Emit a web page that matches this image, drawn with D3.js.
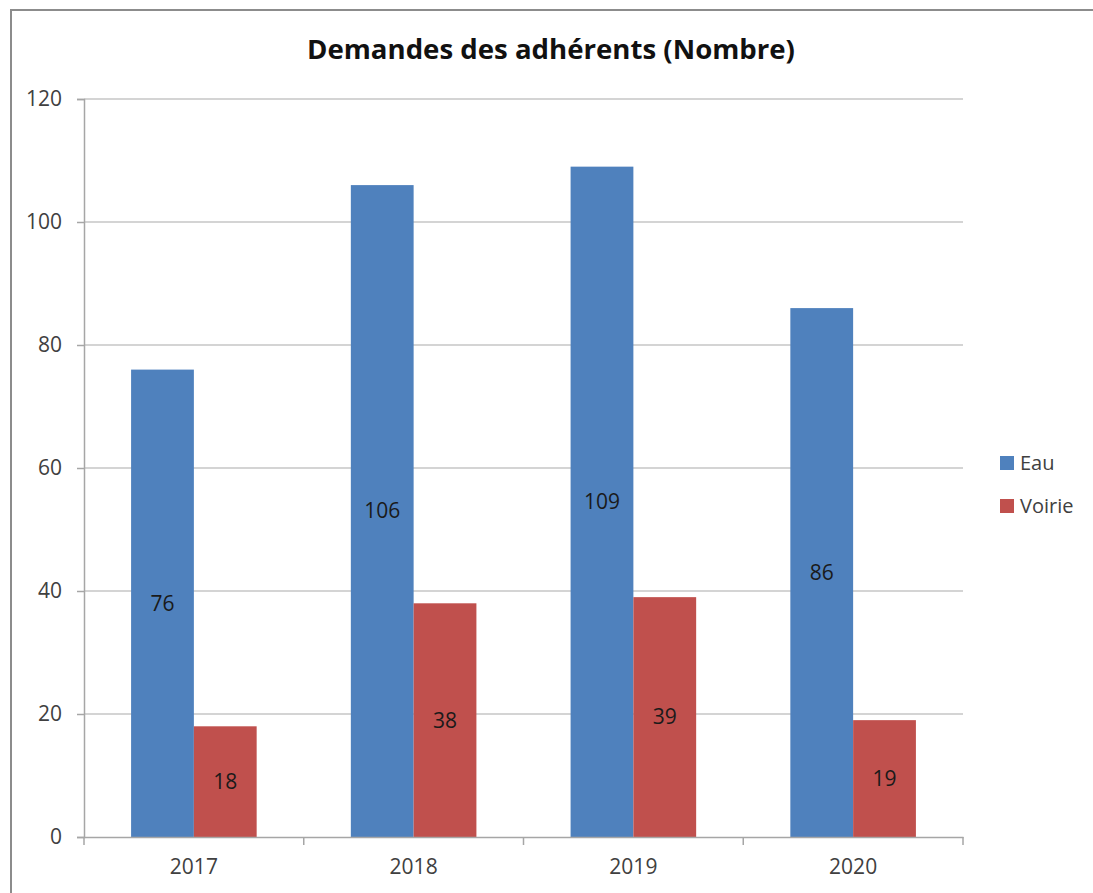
<!DOCTYPE html>
<html>
<head>
<meta charset="utf-8">
<script src="https://cdn.jsdelivr.net/npm/d3@7"></script>
<style>
  html, body { margin: 0; padding: 0; background: #fff; }
  svg { display: block; }
</style>
</head>
<body>
<svg id="chart" width="1093" height="893"></svg>
<script>
const categories = ["2017", "2018", "2019", "2020"];
const seriesNames = ["Eau", "Voirie"];
const eauValues = [76, 106, 109, 86];
const voirieValues = [18, 38, 39, 19];
const yTicks = [0, 20, 40, 60, 80, 100, 120];
const titleText = "Demandes des adhérents (Nombre)";
const colors = ["#4F81BD", "#C0504D"];

const svg = d3.select("#chart");
const W = 1093, H = 893;
const plot = { left: 84, right: 963, top: 99, bottom: 837 };
const font = "'Open Sans', 'Noto Sans', sans-serif";

// frame
svg.append("path")
  .attr("d", `M11,${H} L11,10 L${W},10`)
  .attr("fill", "none")
  .attr("stroke", "#8c8c8c")
  .attr("stroke-width", 2);

const x0 = d3.scaleBand().domain(categories).range([plot.left, plot.right]).paddingInner(0).paddingOuter(0);
const x1 = d3.scaleBand().domain(seriesNames).range([0, x0.bandwidth()]).paddingOuter(0.75).paddingInner(0);
const y = d3.scaleLinear().domain([0, 120]).range([plot.bottom, plot.top]);

// gridlines
svg.append("g")
  .selectAll("line").data(yTicks.filter(d => d > 0)).join("line")
  .attr("x1", plot.left).attr("x2", plot.right)
  .attr("y1", d => y(d)).attr("y2", d => y(d))
  .attr("stroke", "#c6c6c6").attr("stroke-width", 1.5);

// y axis
const yAxis = svg.append("g")
  .attr("transform", `translate(${plot.left},0)`)
  .call(d3.axisLeft(y).tickValues(yTicks).tickSize(7).tickPadding(15));
yAxis.select(".domain").attr("stroke", "#a6a6a6").attr("stroke-width", 1.5);
yAxis.selectAll(".tick line").attr("stroke", "#a6a6a6").attr("stroke-width", 1.5);
yAxis.selectAll("text").attr("font-family", font).attr("font-size", 21).attr("fill", "#404040");

// bars
const data = categories.map((c, i) => ({ cat: c, vals: [eauValues[i], voirieValues[i]] }));
const groups = svg.append("g").selectAll("g").data(data).join("g")
  .attr("transform", d => `translate(${x0(d.cat)},0)`);
groups.selectAll("rect")
  .data(d => d.vals.map((v, j) => ({ name: seriesNames[j], v, j })))
  .join("rect")
  .attr("x", d => x1(d.name))
  .attr("width", x1.bandwidth())
  .attr("y", d => y(d.v))
  .attr("height", d => y(0) - y(d.v))
  .attr("fill", d => colors[d.j]);
groups.selectAll("text")
  .data(d => d.vals.map((v, j) => ({ name: seriesNames[j], v, j })))
  .join("text")
  .attr("x", d => x1(d.name) + x1.bandwidth() / 2)
  .attr("y", d => (y(d.v) + y(0)) / 2)
  .attr("dy", "0.35em")
  .attr("text-anchor", "middle")
  .attr("font-family", font).attr("font-size", 21)
  .attr("fill", "#1a1a1a")
  .text(d => d.v);

// x axis
const xAxis = svg.append("g")
  .attr("transform", `translate(0,${plot.bottom})`)
  .call(d3.axisBottom(x0).tickSize(0).tickPadding(22));
xAxis.select(".domain").attr("stroke", "#a6a6a6").attr("stroke-width", 1.5);
xAxis.selectAll("text").attr("font-family", font).attr("font-size", 21).attr("fill", "#404040");
// category boundary ticks
const boundaries = categories.map(c => x0(c)).concat([plot.right]);
svg.append("g").selectAll("line").data(boundaries).join("line")
  .attr("x1", d => d).attr("x2", d => d)
  .attr("y1", plot.bottom).attr("y2", plot.bottom + 8)
  .attr("stroke", "#a6a6a6").attr("stroke-width", 1.5);

// title
svg.append("text")
  .attr("x", 551).attr("y", 59)
  .attr("text-anchor", "middle")
  .attr("font-family", font).attr("font-weight", "bold").attr("font-size", 27.6)
  .attr("fill", "#111")
  .text(titleText);

// legend
const legend = svg.append("g").attr("transform", "translate(1000,456)");
const li = legend.selectAll("g").data(seriesNames).join("g")
  .attr("transform", (d, i) => `translate(0,${i * 43})`);
li.append("rect").attr("width", 14).attr("height", 14).attr("fill", (d, i) => colors[i]);
li.append("text").attr("x", 20).attr("y", 7).attr("dy", "0.36em")
  .attr("font-family", font).attr("font-size", 20).attr("fill", "#404040")
  .text(d => d);
</script>
</body>
</html>
